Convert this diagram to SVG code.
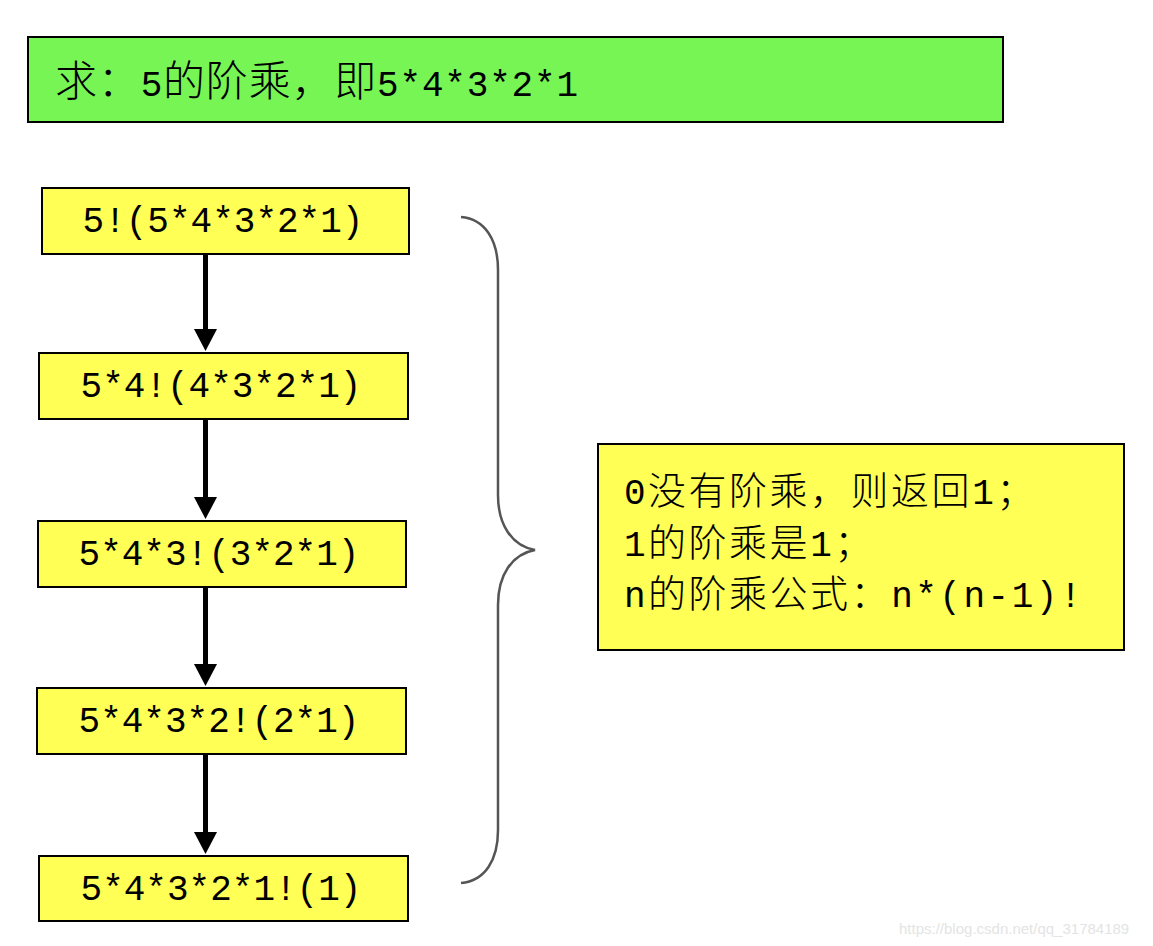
<svg xmlns="http://www.w3.org/2000/svg" width="1153" height="946" viewBox="0 0 1153 946">
<style>
.box{stroke:#000;stroke-width:2}
.g{fill:#77F555}
.y{fill:#FFFF55}
.t{font-family:"Liberation Mono","Noto Sans CJK SC",monospace;font-size:36px;fill:#000}
.c{font-family:"Noto Sans CJK SC",sans-serif;font-size:42px;font-weight:300}
.nt{letter-spacing:2.5px}
.nt .c{font-size:38px}
.shaft{stroke:#000;stroke-width:5;fill:none}
.brace{stroke:#555;stroke-width:2.5;fill:none}
.wm{font-family:"Liberation Sans",Arial,sans-serif;font-size:15px;fill:#e4e4e4}
</style>
<rect width="1153" height="946" fill="#fff"/>
<g id="title">
<rect class="box g" x="28" y="37" width="975" height="85"/>
<text class="t" x="55" y="96" textLength="523"><tspan class="c">求：</tspan>5<tspan class="c">的阶乘，即</tspan>5*4*3*2*1</text>
</g>
<g id="connectors">
<line class="shaft" x1="205.5" y1="254" x2="205.5" y2="332"/>
<path d="M194,329 L217,329 L205.5,351 Z"/>
<line class="shaft" x1="205.5" y1="419" x2="205.5" y2="500"/>
<path d="M194,497 L217,497 L205.5,519 Z"/>
<line class="shaft" x1="205.5" y1="587" x2="205.5" y2="667"/>
<path d="M194,664 L217,664 L205.5,686 Z"/>
<line class="shaft" x1="205.5" y1="754" x2="205.5" y2="835"/>
<path d="M194,832 L217,832 L205.5,854 Z"/>
</g>
<g id="n1">
<rect class="box y" x="42" y="188" width="367" height="66"/>
<text class="t" x="223" y="232" text-anchor="middle">5!(5*4*3*2*1)</text>
</g>
<g id="n2">
<rect class="box y" x="39" y="353" width="369" height="66"/>
<text class="t" x="221" y="397" text-anchor="middle">5*4!(4*3*2*1)</text>
</g>
<g id="n3">
<rect class="box y" x="38" y="521" width="368" height="66"/>
<text class="t" x="219" y="565" text-anchor="middle">5*4*3!(3*2*1)</text>
</g>
<g id="n4">
<rect class="box y" x="37" y="688" width="369" height="66"/>
<text class="t" x="219" y="732" text-anchor="middle">5*4*3*2!(2*1)</text>
</g>
<g id="n5">
<rect class="box y" x="39" y="856" width="369" height="65"/>
<text class="t" x="221" y="900" text-anchor="middle">5*4*3*2*1!(1)</text>
</g>
<g id="brace">
<path class="brace" d="M461,217 C485,219 498,240 498,270 L498,495 C498,525 512,546 535,550 C512,554 498,575 498,605 L498,830 C498,860 485,881 461,883"/>
</g>
<g id="note">
<rect class="box y" x="598" y="444" width="526" height="206"/>
<text class="t nt"><tspan x="624" y="504">0<tspan class="c">没有阶乘，则返回</tspan>1<tspan class="c">；</tspan></tspan><tspan x="624" y="556">1<tspan class="c">的阶乘是</tspan>1<tspan class="c">；</tspan></tspan><tspan x="624" y="607">n<tspan class="c">的阶乘公式：</tspan>n*(n-1)!</tspan></text>
</g>
<text class="wm" x="899" y="934">https://blog.csdn.net/qq_31784189</text>
</svg>
